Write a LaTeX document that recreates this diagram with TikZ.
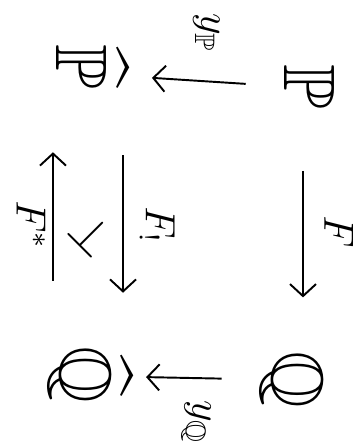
\documentclass[tikz,border=0pt]{standalone}
\usepackage{amsmath,amssymb}
\usepackage{tikz}
\usetikzlibrary{arrows.meta, positioning}
\newcommand{\girado}[1]{\rotatebox[origin=c]{-90}{#1}}

\begin{document}
\begin{tikzpicture}[x=0.01cm, y=-0.01cm,
  flecha/.style={-{Straight Barb[length=1.2mm,width=2.6mm]}, line width=0.55pt},
  objeto/.style={font=\huge, inner sep=1pt},
  etiq/.style={font=\large, inner sep=1pt}]
  \useasboundingbox (0,0) rectangle (359,445);
  % Objetos
  \node[objeto] (P)  at (310,88)  {\girado{$\mathbb{P}$}};
  \node[objeto] (Ph) at (92,74)   {\girado{$\widehat{\mathbb{P}}$}};
  \node[objeto] (Q)  at (292,380) {\girado{$\mathbb{Q}$}};
  \node[objeto] (Qh) at (90,376)  {\girado{$\widehat{\mathbb{Q}}$}};
  % Inclusiones de Yoneda
  \draw[flecha, shorten <=0.35cm, shorten >=0.2cm] (P) -- (Ph)
    node[etiq, midway, above=0.24cm] (yP) {\girado{$y_{\mathbb{P}}$}};
  \draw[flecha, shorten <=0.35cm, shorten >=0.1cm] (Q) -- (Qh)
    node[etiq, midway, below=0.18cm] (yQ) {\girado{$y_{\mathbb{Q}}$}};
  % Funtor F
  \draw[flecha, shorten <=0.55cm, shorten >=0.5cm] ([xshift=-0.07cm]P.south) -- ([xshift=-0.07cm]P.south |- Q.north)
    node[etiq, midway, right=0.17cm] (F) {\girado{$F$}};
  % Adjuncion
  \draw[flecha, shorten <=0.48cm, shorten >=0.5cm] ([xshift=0.31cm]Ph.south) -- ([xshift=0.31cm]Ph.south |- Qh.north)
    node[etiq, midway, right=0.12cm] (Fl) {\girado{$F_!$}};
  \draw[flecha, shorten <=0.62cm, shorten >=0.45cm] ([xshift=-0.39cm]Ph.south |- Qh.north) -- ([xshift=-0.39cm]Ph.south)
    node[etiq, midway, left=0.03cm] (Fs) {\girado{$F^*$}};
  \node[font=\Large] (adj) at (92,234) {\rotatebox[origin=c]{-45}{$\perp$}};
\end{tikzpicture}
\end{document}
